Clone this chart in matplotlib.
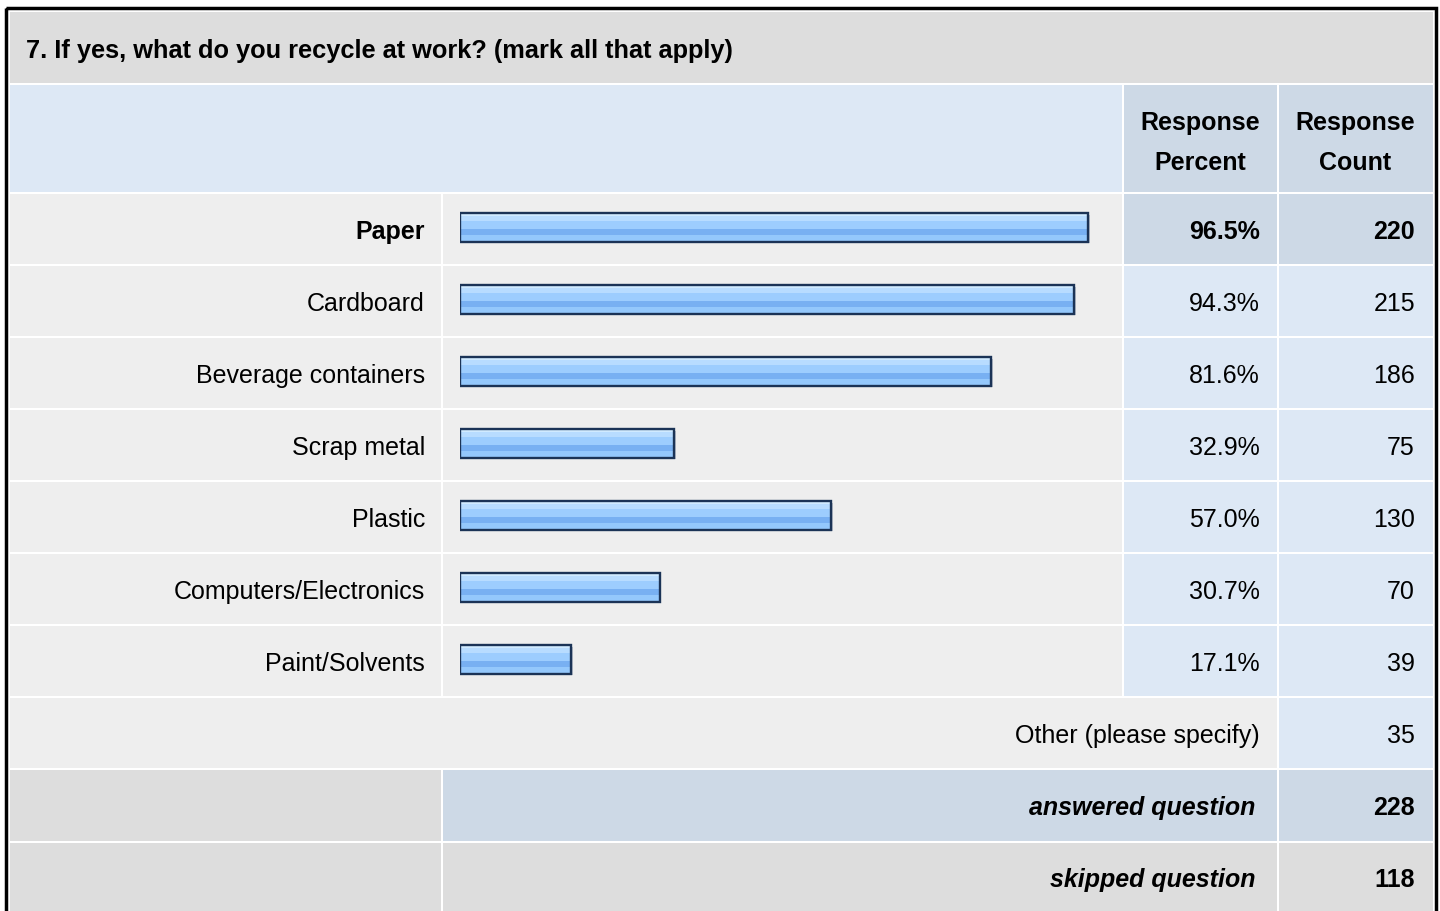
import numpy as np
import matplotlib
matplotlib.use("Agg")
import matplotlib.pyplot as plt
from matplotlib.patches import Rectangle

# datos de la tabla
titulo = "7. If yes, what do you recycle at work? (mark all that apply)"
categorias = ["Paper", "Cardboard", "Beverage containers", "Scrap metal",
              "Plastic", "Computers/Electronics", "Paint/Solvents"]
porcentajes = [96.5, 94.3, 81.6, 32.9, 57.0, 30.7, 17.1]
conteos = [220, 215, 186, 75, 130, 70, 39]
otro_label = "Other (please specify)"
otro_conteo = 35
respondidas = 228
omitidas = 118

plt.rcParams['font.family'] = ['Liberation Sans', 'DejaVu Sans']
fs = 18

W, H = 1440, 911
fig = plt.figure(figsize=(W / 100, H / 100), dpi=100)
fig.patch.set_facecolor("white")

# ejes en pixeles para la cuadricula
ax = fig.add_axes([0, 0, 1, 1])
ax.set_xlim(0, W)
ax.set_ylim(H, 0)
ax.axis("off")

gris = "#dddddd"
gris_claro = "#eeeeee"
azul = "#dde8f5"
azul_osc = "#cdd9e6"

# columnas
c0, c1, c2, c3, c4 = 10, 442, 1123, 1278, 1433
fila0, alto, paso = 194, 70, 72


def celda(x0, x1, y0, h, color):
    ax.add_patch(Rectangle((x0, y0), x1 - x0, h, facecolor=color, edgecolor="none"))


# borde exterior
ax.add_patch(Rectangle((5.5, 7.5), 1430, 920, facecolor="none", edgecolor="black", lw=2.5))

# titulo y encabezado
celda(c0, c4, 12, 71, gris)
ax.text(26, 51, titulo, fontsize=18.3, fontweight="bold", va="center", ha="left")
celda(c0, c2 - 1, 85, 107, azul)
celda(c2 + 1, c3 - 1, 85, 107, azul_osc)
celda(c3 + 1, c4, 85, 107, azul_osc)
ax.text((c2 + c3) / 2, 143, "Response\nPercent", fontsize=fs, fontweight="bold",
        ha="center", va="center", linespacing=1.8)
ax.text((c3 + c4) / 2, 143, "Response\nCount", fontsize=fs, fontweight="bold",
        ha="center", va="center", linespacing=1.8)

# filas de respuestas
for i, (cat, pct, n) in enumerate(zip(categorias, porcentajes, conteos)):
    y0 = fila0 + i * paso
    yc = y0 + alto / 2 + 3
    col = azul_osc if i == 0 else azul
    peso = "bold" if i == 0 else "normal"
    celda(c0, c1 - 1, y0, alto, gris_claro)
    celda(c1 + 1, c2 - 1, y0, alto, gris_claro)
    celda(c2 + 1, c3 - 1, y0, alto, col)
    celda(c3 + 1, c4, y0, alto, col)
    ax.text(425, yc, cat, fontsize=fs, fontweight=peso, ha="right", va="center")
    ax.text(1260, yc, f"{pct:.1f}%", fontsize=fs, fontweight=peso, ha="right", va="center")
    ax.text(1415, yc, str(n), fontsize=fs, fontweight=peso, ha="right", va="center")

# fila "otro"
y0 = fila0 + 7 * paso
celda(c0, c3 - 1, y0, alto, gris_claro)
celda(c3 + 1, c4, y0, alto, azul)
ax.text(1260, y0 + alto / 2 + 3, otro_label, fontsize=fs, ha="right", va="center")
ax.text(1415, y0 + alto / 2 + 3, str(otro_conteo), fontsize=fs, ha="right", va="center")

# respondidas / omitidas
y0 = fila0 + 8 * paso
celda(c0, c1 - 1, y0, alto + 1, gris)
celda(c1 + 1, c3 - 1, y0, alto + 1, azul_osc)
celda(c3 + 1, c4, y0, alto + 1, azul_osc)
ax.text(1255, y0 + alto / 2 + 3, "answered question", fontsize=fs, fontweight="bold",
        style="italic", ha="right", va="center")
ax.text(1415, y0 + alto / 2 + 3, str(respondidas), fontsize=fs, fontweight="bold",
        ha="right", va="center")
y0 = fila0 + 9 * paso + 1
celda(c0, c1 - 1, y0, 80, gris)
celda(c1 + 1, c3 - 1, y0, 80, gris)
celda(c3 + 1, c4, y0, 80, gris)
ax.text(1255, y0 + alto / 2 + 2, "skipped question", fontsize=fs, fontweight="bold",
        style="italic", ha="right", va="center")
ax.text(1415, y0 + alto / 2 + 2, str(omitidas), fontsize=fs, fontweight="bold",
        ha="right", va="center")

# ejes de barras: 0-100 % sobre 651 px
bx0, bw = 460, 651
by0 = fila0 - 1
axb = fig.add_axes([bx0 / W, 1 - (by0 + 7 * paso) / H, bw / W, 7 * paso / H])
axb.set_xlim(0, 100)
axb.set_ylim(6.5, -0.5)
axb.axis("off")
axb.patch.set_alpha(0)

y = np.arange(len(porcentajes)) - 0.02
hb = 0.40
# franjas del degradado (de arriba a abajo): fraccion de alto, color
franjas = [(0.10, "#d0eaff"), (0.16, "#b8dcff"), (0.30, "#9dcdfe"),
           (0.20, "#78b0f2"), (0.24, "#94c8fc")]
# sombra
axb.barh(y + 0.02, porcentajes, height=hb, left=0.25, color="#8a96a8", alpha=0.5)
arriba = y - hb / 2
for frac, color in franjas:
    axb.barh(arriba + frac * hb / 2, porcentajes, height=frac * hb, color=color,
             edgecolor="none")
    arriba = arriba + frac * hb
axb.barh(y, porcentajes, height=hb, color="none", edgecolor="#1b3356", linewidth=1.7)

fig.savefig("out.png", dpi=100, facecolor="white")
